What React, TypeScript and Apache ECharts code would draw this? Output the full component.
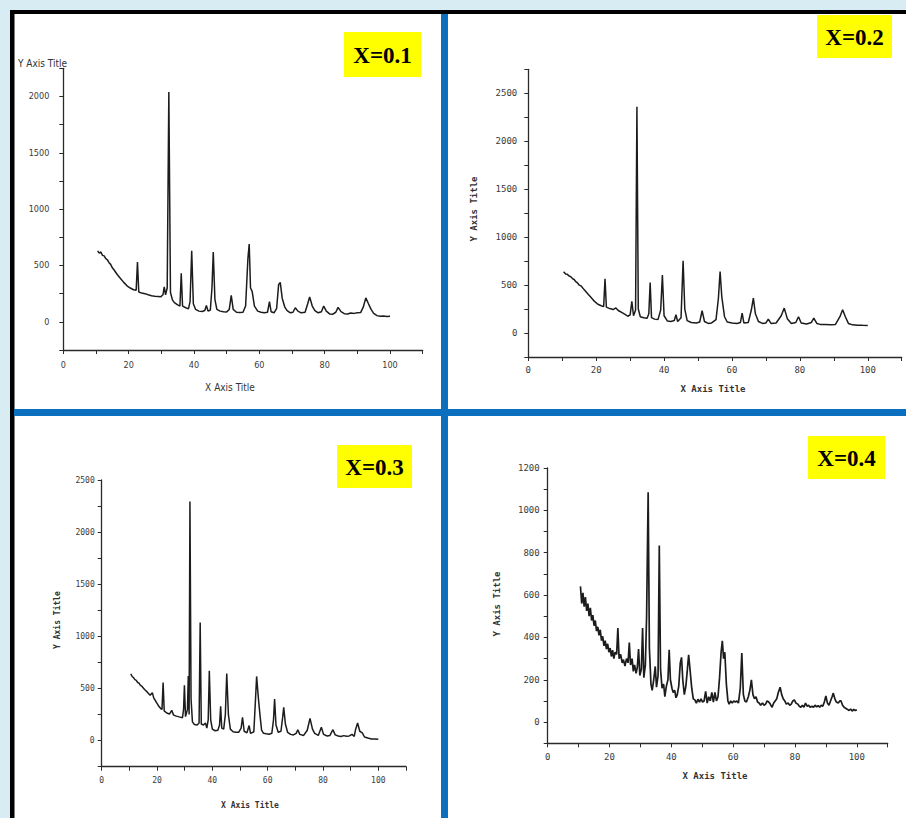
import React, { useEffect, useRef } from "react";
import * as echarts from "echarts";

// ---- data: [2theta, intensity] ----
const patternX01: [number, number][] = [
  [10.5, 630], [11, 610], [11.5, 620], [12, 590], [12.5, 585], [13, 560], [13.5, 550], [14, 525],
  [14.5, 510], [15, 480], [15.5, 462], [16.5, 420],
  [17.5, 385], [18.5, 350], [19.5, 320], [20.5, 300], [21.5, 285], [22.3, 280], [22.7, 530],
  [23.1, 265], [24, 255], [25, 250], [26, 240], [27, 232], [28, 228], [29, 225], [29.8, 222],
  [30.5, 240], [30.9, 310], [31.3, 240], [31.8, 300], [32.3, 2040], [32.8, 260], [33.4, 195],
  [34, 170], [35, 150], [35.7, 140], [36.1, 430], [36.5, 140], [37.5, 125], [38.3, 115],
  [38.8, 180], [39.3, 630], [39.8, 160], [40.5, 110], [41.5, 95], [42.5, 92], [43.3, 100],
  [43.8, 145], [44.3, 95], [45, 105], [45.5, 300], [45.9, 620], [46.4, 200], [47, 110],
  [48, 95], [49, 90], [50, 88], [50.8, 110], [51.4, 235], [52, 110], [53, 85], [54, 82],
  [55, 85], [55.8, 140], [56.5, 560], [56.9, 690], [57.3, 300], [57.8, 270], [58.5, 140],
  [59.5, 95], [60.5, 85], [61.5, 80], [62.5, 85], [63.1, 180], [63.6, 90], [64.5, 80],
  [65.3, 120], [65.9, 330], [66.4, 350], [67, 210], [67.8, 130], [68.5, 100], [69.5, 80],
  [70.3, 85], [71, 125], [71.8, 95], [72.8, 80], [74, 85], [74.8, 160], [75.4, 220],
  [76.2, 140], [77, 100], [78, 80], [79, 90], [79.7, 140], [80.5, 95], [81.5, 70], [82.5, 68],
  [83.4, 85], [84.1, 128], [85, 90], [86, 72], [87, 70], [88, 78], [89, 75], [90, 80],
  [91, 82], [91.8, 130], [92.6, 213], [93.4, 160], [94.2, 110], [95, 75], [96, 55], [97, 50],
  [98, 52], [99, 48], [100, 50],
];

const patternX02: [number, number][] = [
  [10.4, 640], [11, 615], [11.5, 612], [12, 595], [12.5, 588], [13, 568], [13.5, 558], [14, 535],
  [14.5, 522], [15, 500], [15.5, 492], [16.5, 450],
  [17.5, 410], [18.5, 370], [19.5, 330], [20.5, 300], [21.5, 285], [22.2, 275], [22.6, 566],
  [23, 270], [24, 255], [25, 245], [25.8, 262], [26.5, 235], [27.5, 215], [28.5, 195],
  [29.3, 175], [30, 190], [30.5, 330], [31, 180], [31.6, 240], [32.0, 2360], [32.4, 250],
  [33, 170], [34, 160], [35, 155], [35.5, 200], [35.9, 527], [36.3, 160], [37.2, 145],
  [38.2, 140], [39, 240], [39.5, 604], [40, 180], [41, 125], [42, 120], [43, 130], [43.5, 190],
  [44, 120], [45, 160], [45.6, 753], [46.1, 250], [46.8, 130], [48, 110], [49.5, 105],
  [50.5, 115], [51.2, 232], [51.9, 120], [53, 100], [54, 105], [55.3, 140], [56, 360],
  [56.5, 642], [57, 380], [57.8, 170], [58.6, 115], [60, 105], [61.5, 100], [62.5, 110],
  [63, 208], [63.5, 105], [64.8, 110], [65.7, 240], [66.3, 364], [66.9, 200], [67.8, 120],
  [69, 100], [70, 105], [70.7, 146], [71.5, 100], [73, 105], [74.5, 180], [75.4, 260],
  [76.3, 150], [77.5, 100], [78.8, 110], [79.6, 170], [80.4, 105], [82, 95], [83.4, 110],
  [84.1, 156], [85, 100], [86, 90], [87.5, 88], [89, 86], [90.5, 90], [91.8, 170], [92.6, 243],
  [93.4, 170], [94.3, 100], [95.5, 85], [97, 82], [98.5, 80], [100, 79],
];

const patternX03: [number, number][] = [
  [10.5, 640], [11, 615], [11.5, 605], [12, 585], [12.5, 578], [13, 558], [13.5, 552], [14, 530],
  [14.5, 522], [15.5, 490], [16.5, 465],
  [17.5, 435], [18.3, 460], [18.8, 410], [19.5, 380], [20.5, 335], [21.4, 305], [21.8, 300],
  [22.2, 558], [22.6, 285], [23.5, 265], [24.5, 255], [25.3, 290], [26, 245], [27, 235],
  [28, 228], [29.2, 220], [29.6, 300], [29.9, 532], [30.3, 230], [31.0, 300], [31.3, 620],
  [31.6, 250], [31.9, 2294], [32.3, 400], [32.8, 180], [33.5, 155], [34.5, 150], [35.2, 170],
  [35.6, 1132], [36.0, 160], [36.8, 150], [37.5, 170], [38.0, 120], [38.5, 200], [38.9, 669],
  [39.4, 200], [40, 110], [41, 95], [42, 100], [42.6, 150], [43.0, 329], [43.4, 120],
  [44.1, 110], [44.7, 250], [45.2, 644], [45.8, 250], [46.5, 110], [47.5, 85], [48.5, 80],
  [49.5, 80], [50.4, 120], [50.9, 224], [51.5, 90], [52.5, 75], [53.3, 145], [53.8, 70],
  [55, 85], [55.6, 400], [56.0, 616], [56.6, 420], [57.2, 250], [57.8, 100], [58.5, 70],
  [59.5, 65], [60.5, 62], [61.5, 70], [62.1, 200], [62.5, 399], [63, 150], [63.8, 80],
  [64.8, 90], [65.4, 220], [65.8, 319], [66.4, 160], [67.2, 80], [68.3, 60], [69.3, 55],
  [70.3, 70], [70.9, 105], [71.6, 60], [73, 50], [74.3, 100], [75.3, 214], [76.2, 110],
  [77, 70], [78.3, 50], [79.4, 128], [80.2, 60], [81.5, 45], [82.5, 50], [83.6, 105],
  [84.4, 55], [85.5, 45], [86.5, 40], [87.5, 48], [88.5, 42], [89.5, 45], [90.5, 60],
  [91.3, 40], [91.8, 110], [92.5, 169], [93.3, 90], [94.2, 75], [95, 35], [96.2, 25],
  [97.5, 15], [98.8, 16], [100, 14],
];

const patternX04: [number, number][] = [
  [10.6, 641], [11.0, 560], [11.4, 610], [11.8, 545], [12.2, 590], [12.6, 525], [13.0, 560],
  [13.4, 500], [13.8, 540], [14.2, 480], [14.6, 505], [15.0, 455], [15.4, 480], [15.8, 430],
  [16.2, 450], [16.6, 410], [17.0, 436], [17.4, 385], [17.8, 405], [18.2, 360], [18.6, 385],
  [19.0, 345], [19.4, 370], [19.8, 330], [20.2, 350], [20.6, 310], [21.0, 340], [21.4, 300],
  [21.8, 330], [22.3, 320], [22.7, 444], [23.1, 300], [23.6, 320], [24.1, 280], [24.5, 295],
  [25.0, 265], [25.5, 300], [26.0, 280], [26.4, 376], [26.8, 270], [27.3, 300], [27.7, 240],
  [28.1, 270], [28.6, 230], [29.0, 260], [29.4, 345], [29.8, 220], [30.3, 250], [30.7, 444],
  [31.1, 210], [31.6, 270], [32.0, 500], [32.5, 1086], [32.9, 350], [33.4, 180], [33.8, 150],
  [34.3, 200], [34.8, 263], [35.2, 165], [35.7, 220], [36.1, 834], [36.5, 250], [37.0, 160],
  [37.5, 180], [37.9, 120], [38.4, 170], [38.9, 200], [39.3, 342], [39.7, 200], [40.2, 160],
  [40.6, 140], [41.1, 150], [41.5, 115], [41.9, 129], [42.4, 170], [42.9, 280], [43.3, 306],
  [43.7, 200], [44.2, 130], [44.7, 170], [45.2, 250], [45.6, 318], [46.1, 240], [46.6, 160],
  [47.1, 110], [47.6, 105], [48.1, 90], [48.6, 108], [49.1, 95], [49.6, 110], [50.1, 95],
  [50.6, 100], [51.1, 145], [51.6, 90], [52.1, 120], [52.6, 100], [53.1, 140], [53.6, 95],
  [54.1, 140], [54.6, 100], [55.1, 120], [55.6, 210], [56.1, 330], [56.5, 384], [56.9, 300],
  [57.3, 330], [57.8, 180], [58.3, 100], [58.7, 85], [59.2, 100], [59.7, 90], [60.2, 100],
  [60.7, 95], [61.2, 100], [61.7, 90], [62.3, 160], [62.8, 326], [63.3, 130], [63.8, 100],
  [64.3, 95], [64.9, 120], [65.4, 150], [65.9, 200], [66.4, 130], [66.9, 110], [67.4, 120],
  [67.9, 95], [68.4, 90], [68.9, 80], [69.5, 90], [70.0, 80], [70.5, 85], [71.0, 100],
  [71.5, 95], [72.0, 85], [72.6, 70], [73.1, 90], [73.6, 100], [74.1, 110], [74.6, 140],
  [75.2, 165], [75.7, 130], [76.2, 110], [76.7, 100], [77.2, 85], [77.8, 90], [78.3, 80],
  [78.8, 85], [79.3, 100], [79.8, 105], [80.3, 90], [80.9, 85], [81.4, 75], [81.9, 70],
  [82.4, 80], [82.9, 70], [83.4, 90], [83.9, 75], [84.4, 80], [84.9, 70], [85.5, 75],
  [86.0, 70], [86.5, 80], [87.0, 72], [87.5, 78], [88.0, 70], [88.5, 80], [89.0, 75],
  [89.5, 95], [90.0, 124], [90.5, 90], [91.0, 80], [91.5, 100], [92.0, 120], [92.4, 137],
  [92.9, 110], [93.4, 95], [94.0, 90], [94.5, 100], [94.9, 100], [95.4, 80], [95.9, 70],
  [96.4, 65], [97.0, 60], [97.5, 55], [98.0, 62], [98.5, 52], [99.0, 60], [99.5, 55], [100.0, 58],
];

const panelLabels = ["X=0.1", "X=0.2", "X=0.3", "X=0.4"];
const yRangeMin = [-250, -250, -250, -100];
const yRangeMax = [2250, 2750, 2500, 1200];
const yTickStep = [250, 250, 250, 100];
const yLabelStep = [500, 500, 500, 200];
const xTickLabels = [0, 20, 40, 60, 80, 100];
const xAxisTitle = "X Axis Title";
const yAxisTitle = "Y Axis Title";

const patterns = [patternX01, patternX02, patternX03, patternX04];

// ---- layout / style ----
const narrowFont = "'Liberation Sans Narrow', 'DejaVu Sans Condensed', 'Arial Narrow', sans-serif";
const monoFont = "'DejaVu Sans Mono', 'Liberation Mono', monospace";
const serifFont = "'Liberation Serif', 'Times New Roman', serif";

const layout = [
  { grid: { left: 63.3, top: 68.3, width: 359.4, height: 281.7 }, font: narrowFont, fs: 9, xm: 10, ym: 14, lw: 1.5,
    box: { x: 344, y: 32, w: 77, h: 45 },
    xt: { x: 230, y: 387 }, yt: { x: 18, y: 63, rot: false } },
  { grid: { left: 528.3, top: 69.3, width: 373.4, height: 287.7 }, font: monoFont, fs: 9, xm: 8, ym: 11, lw: 1.5,
    box: { x: 817, y: 15, w: 75, h: 43 },
    xt: { x: 713, y: 389 }, yt: { x: 474, y: 209, rot: true } },
  { grid: { left: 101.7, top: 480, width: 304.3, height: 286.7 }, font: monoFont, fs: 8, xm: 10, ym: 7, lw: 1.5,
    box: { x: 337, y: 445, w: 75, h: 43 },
    xt: { x: 250, y: 805 }, yt: { x: 57, y: 620, rot: true } },
  { grid: { left: 547.7, top: 468, width: 340, height: 275.3 }, font: monoFont, fs: 9, xm: 9, ym: 8, lw: 1.7,
    box: { x: 808, y: 436, w: 77, h: 43 },
    xt: { x: 715, y: 776 }, yt: { x: 497, y: 604, rot: true } },
];

export default function App() {
  const ref = useRef<HTMLDivElement>(null);

  useEffect(() => {
    if (!ref.current) return;
    const chart = echarts.init(ref.current, undefined, { renderer: "svg" });

    const axisColor = "#2a2a2a";
    const labelColor = "#3a3a3a";

    const graphics: any[] = [
      { type: "rect", z: -10, shape: { x: 10, y: 10, width: 896, height: 808 }, style: { fill: "#ffffff" }, silent: true },
      { type: "rect", z: -9, shape: { x: 10, y: 10, width: 896, height: 4 }, style: { fill: "#000000" }, silent: true },
      { type: "rect", z: -9, shape: { x: 10, y: 10, width: 4.5, height: 808 }, style: { fill: "#000000" }, silent: true },
      { type: "rect", z: -9, shape: { x: 441, y: 14, width: 7, height: 804 }, style: { fill: "#0b6fc0" }, silent: true },
      { type: "rect", z: -9, shape: { x: 14, y: 409, width: 892, height: 7 }, style: { fill: "#0b6fc0" }, silent: true },
    ];

    layout.forEach((p, i) => {
      graphics.push({
        type: "rect", z: 20, shape: { x: p.box.x, y: p.box.y, width: p.box.w, height: p.box.h },
        style: { fill: "#ffff00" }, silent: true,
      });
      graphics.push({
        type: "text", z: 21, x: p.box.x + p.box.w / 2, y: p.box.y + p.box.h / 2 + 1,
        style: {
          text: panelLabels[i], fill: "#000", fontFamily: serifFont, fontWeight: "bold", fontSize: 23,
          align: "center", verticalAlign: "middle", textAlign: "center", textVerticalAlign: "middle",
        },
        silent: true,
      });
      const titleFont = i === 0 ? narrowFont : monoFont;
      const titleSize = i === 0 ? 10 : i === 2 ? 8 : 9;
      graphics.push({
        type: "text", z: 5, x: p.xt.x, y: p.xt.y,
        style: {
          text: xAxisTitle, fill: "#333", fontFamily: titleFont, fontSize: titleSize, fontWeight: i === 0 ? "normal" : "bold",
          align: "center", verticalAlign: "middle", textAlign: "center", textVerticalAlign: "middle",
        },
        silent: true,
      });
      graphics.push({
        type: "text", z: 5, x: p.yt.x, y: p.yt.y, rotation: p.yt.rot ? Math.PI / 2 : 0,
        style: {
          text: yAxisTitle, fill: "#333", fontFamily: titleFont, fontSize: titleSize, fontWeight: i === 0 ? "normal" : "bold",
          align: p.yt.rot ? "center" : "left", verticalAlign: "middle",
          textAlign: p.yt.rot ? "center" : "left", textVerticalAlign: "middle",
        },
        silent: true,
      });
    });

    const option: any = {
      animation: false,
      backgroundColor: "#d7ecf3",
      grid: layout.map((p) => ({ ...p.grid, containLabel: false })),
      xAxis: layout.map((p, i) => ({
        gridIndex: i,
        type: "value",
        min: 0,
        max: 110,
        interval: 10,
        axisLine: { show: true, onZero: false, lineStyle: { color: axisColor, width: 1.3 } },
        axisTick: { show: true, length: 4, lineStyle: { color: axisColor, width: 1 } },
        axisLabel: {
          margin: p.xm,
          fontSize: p.fs,
          fontFamily: p.font,
          color: labelColor,
          formatter: (v: number) => (xTickLabels.indexOf(v) >= 0 ? String(v) : ""),
        },
        splitLine: { show: false },
      })),
      yAxis: layout.map((p, i) => ({
        gridIndex: i,
        type: "value",
        min: yRangeMin[i],
        max: yRangeMax[i],
        interval: yTickStep[i],
        axisLine: { show: true, onZero: false, lineStyle: { color: axisColor, width: 1.3 } },
        axisTick: { show: true, length: 4, lineStyle: { color: axisColor, width: 1 } },
        axisLabel: {
          margin: p.ym,
          fontSize: p.fs,
          fontFamily: p.font,
          color: labelColor,
          formatter: (v: number) => (v >= 0 && v % yLabelStep[i] === 0 ? String(v) : ""),
        },
        splitLine: { show: false },
      })),
      series: patterns.map((data, i) => ({
        type: "line",
        xAxisIndex: i,
        yAxisIndex: i,
        data,
        showSymbol: false,
        symbol: "none",
        smooth: false,
        lineStyle: { color: "#1c1c1c", width: layout[i].lw },
        z: 3,
      })),
      graphic: { elements: graphics },
    };

    chart.setOption(option);
    return () => chart.dispose();
  }, []);

  return (
    <div
      ref={ref}
      style={{ position: "fixed", left: 0, top: 0, width: 906, height: 818 }}
    />
  );
}
